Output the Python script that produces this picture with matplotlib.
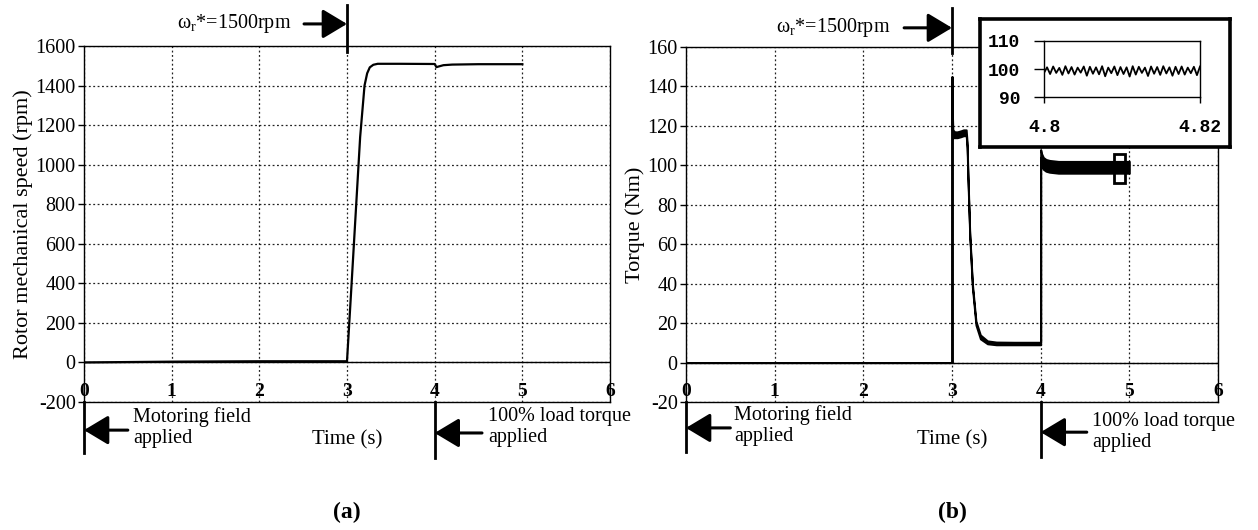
import numpy as np
import matplotlib
matplotlib.use("Agg")
import matplotlib.pyplot as plt
import matplotlib.transforms as mtransforms
from matplotlib.patches import Rectangle

plt.rcParams['font.family'] = ['Liberation Serif', 'DejaVu Serif']
plt.rcParams['mathtext.fontset'] = 'custom'
plt.rcParams['mathtext.rm'] = 'Liberation Serif'
plt.rcParams['mathtext.it'] = 'Liberation Serif:italic'

# ---- data -------------------------------------------------------------
x_ticks = [0, 1, 2, 3, 4, 5, 6]

speed_t = [0.0, 1.0, 2.0, 3.0, 3.05, 3.1, 3.15, 3.2, 3.23, 3.26, 3.3, 3.35,
           3.4, 3.6, 4.0, 4.02, 4.05, 4.1, 4.2, 4.5, 5.0]
speed_rpm = [0, 4, 6, 6, 380, 760, 1140, 1400, 1462, 1492, 1505, 1510,
             1510, 1510, 1509, 1493, 1497, 1503, 1506, 1508, 1508]
speed_yticks = [-200, 0, 200, 400, 600, 800, 1000, 1200, 1400, 1600]

torque_t = [0.0, 3.0, 3.0, 3.005, 3.01, 3.03, 3.06, 3.1, 3.13, 3.16, 3.17,
            3.18, 3.2, 3.23, 3.27, 3.32, 3.4, 3.5, 3.7, 4.0, 4.0, 4.01,
            4.03, 4.06, 4.1, 4.2, 4.4, 4.7, 5.0]
torque_hi = [0, 0, 145, 125, 118, 117, 117, 117.5, 118, 118, 112, 95, 66,
             40, 21, 14, 11, 10.4, 10.3, 10.3, 108, 106, 104, 103, 102.5,
             102, 102, 102, 102]
torque_lo = [0, 0, 145, 118, 114, 114, 114, 114.5, 115, 115, 109, 92, 64,
             38, 19, 12, 9.5, 9, 9, 9, 104, 100, 98, 97, 96.5, 96, 96, 96, 96]
torque_yticks = [-20, 0, 20, 40, 60, 80, 100, 120, 140, 160]

# zoomed window 4.80 s .. 4.82 s (alternating crests / troughs)
zoom_torque = [98.6, 100.6, 98.2, 100.9, 98.6, 100.4, 97.9, 101.0, 98.4,
               100.7, 98.0, 100.5, 98.7, 100.9, 97.6, 100.8, 98.3, 100.6,
               98.1, 101.0, 97.4, 100.5, 98.5, 100.9, 97.8, 100.7, 98.2,
               100.6, 97.3, 101.0, 98.0, 100.8, 98.6, 100.5, 97.5, 100.9,
               98.3, 100.7, 97.9, 101.0, 98.4, 100.6, 97.6, 100.8, 98.2,
               100.9, 98.0, 100.5, 98.5, 100.8, 97.8, 100.9]
zoom_window = (4.80, 4.82)
zoom_box = (4.83, 91, 0.12, 15)   # t0, T0, width, height of marked window

# ---- figure -----------------------------------------------------------
W, H = 1258, 530
fig = plt.figure(figsize=(W / 100, H / 100), dpi=100)

ax1 = fig.add_axes([84 / W, 1 - 402 / H, 526 / W, 356 / H])
ax2 = fig.add_axes([686 / W, 1 - 402 / H, 532 / W, 355 / H])

grid_style = dict(color='#222222', linewidth=0.9, linestyle=(0, (1.5, 2.0)))


def style_axes(ax, yticks):
    ax.set_xlim(0, 6)
    ax.set_ylim(yticks[0], yticks[-1])
    ax.set_xticks(x_ticks)
    ax.set_yticks(yticks)
    ax.set_yticklabels([str(v) for v in yticks])
    for s in ax.spines.values():
        s.set_linewidth(1.0)
        s.set_color('black')
    ax.grid(True, **grid_style)
    ax.axhline(0, color='black', linewidth=1.0, zorder=2)
    ax.tick_params(axis='x', direction='in', length=0, pad=-14,
                   labelsize=14)
    ax.tick_params(axis='y', direction='out', length=4, width=1, pad=2,
                   labelsize=14.5)
    for lab in ax.get_xticklabels():
        lab.set_fontweight('bold')


def annotate_events(ax, vl0, vl4, arr0_y, arr0_tail, txt0_x, txt0_y,
                    arr4_y, arr4_tail, txt4_x, txt4_y,
                    top_hi, top_lo, top_y, top_tail, top_txt_x, panel):
    tr = mtransforms.blended_transform_factory(ax.transData, ax.transAxes)
    line_kw = dict(color='black', linewidth=2.0, transform=tr, clip_on=False)
    arrow_kw = dict(arrowstyle='-|>,head_length=0.75,head_width=0.45',
                    mutation_scale=20, color='black', linewidth=2.2,
                    shrinkA=0, shrinkB=0)
    # event markers below the plot
    ax.plot([0, 0], [0, vl0], **line_kw)
    ax.plot([4, 4], [0, vl4], **line_kw)
    ax.annotate('', xy=(0.0, arr0_y), xytext=(arr0_tail, arr0_y),
                xycoords=tr, textcoords=tr, arrowprops=arrow_kw,
                annotation_clip=False)
    ax.text(txt0_x, txt0_y, 'Motoring field\napplied', transform=tr,
            ha='left', va='center', fontsize=14.5, linespacing=1.15)
    ax.annotate('', xy=(4.0, arr4_y), xytext=(arr4_tail, arr4_y),
                xycoords=tr, textcoords=tr, arrowprops=arrow_kw,
                annotation_clip=False)
    ax.text(txt4_x, txt4_y, '100% load torque\napplied', transform=tr,
            ha='left', va='center', fontsize=14.5, linespacing=1.15)
    ax.text(3.0, -0.107, 'Time (s)', transform=tr, ha='center',
            va='center', fontsize=15)
    ax.text(3.0, -0.31, panel, transform=tr, ha='center', va='center',
            fontsize=17, fontweight='bold')
    # speed reference step above the plot
    ax.plot([3, 3], [top_lo, top_hi], **line_kw)
    ax.annotate('', xy=(3.0, top_y), xytext=(top_tail, top_y),
                xycoords=tr, textcoords=tr, arrowprops=arrow_kw,
                annotation_clip=False)
    ax.text(top_txt_x, top_y, r'ω$_{\rm r}$*=1500rpm', transform=tr,
            ha='right', va='center', fontsize=14.5)


# (a) rotor speed
style_axes(ax1, speed_yticks)
ax1.plot(speed_t, speed_rpm, color='black', linewidth=1.6, zorder=3)
ax1.set_ylabel('Rotor mechanical speed (rpm)', fontsize=16, labelpad=2)
annotate_events(ax1, -0.143, -0.157, -0.079, 0.50, 0.56, -0.073,
                -0.087, 4.54, 4.61, -0.071,
                1.115, 0.983, 1.062, 2.51, 2.37, '(a)')

# (b) electromagnetic torque
style_axes(ax2, torque_yticks)
ax2.fill_between(torque_t, torque_lo, torque_hi, facecolor='black',
                 edgecolor='black', linewidth=1.4, zorder=3)
ax2.add_patch(Rectangle(zoom_box[:2], zoom_box[2], zoom_box[3],
                        facecolor='none', edgecolor='black', linewidth=2.0,
                        zorder=4))
ax2.set_ylabel('Torque (Nm)', fontsize=16, labelpad=2)
annotate_events(ax2, -0.141, -0.155, -0.073, 0.50, 0.54, -0.066,
                -0.085, 4.52, 4.58, -0.085,
                1.11, 0.983, 1.054, 2.46, 2.30, '(b)')

# inset frame with the zoomed ripple
frame = fig.add_axes([980 / W, 1 - 147 / H, 250 / W, 128 / H])
frame.set_xticks([])
frame.set_yticks([])
frame.set_facecolor('white')
for s in frame.spines.values():
    s.set_linewidth(2.6)
    s.set_color('black')
frame.set_zorder(5)

ins = fig.add_axes([1044 / W, 1 - 97 / H, 156 / W, 56 / H])
ins.set_zorder(6)
ins.set_facecolor('white')
zt = np.linspace(zoom_window[0], zoom_window[1], len(zoom_torque))
ins.plot(zt, zoom_torque, color='black', linewidth=1.3)
ins.set_xlim(*zoom_window)
ins.set_ylim(90, 110)
ins.set_xticks([4.80, 4.82])
ins.set_xticklabels(['4.8', '4.82'])
ins.set_yticks([90, 100, 110])
ins.set_yticklabels(['90', '100', '110'])
for s in ins.spines.values():
    s.set_linewidth(1.0)
ins.tick_params(axis='y', direction='out', length=7, width=1, pad=10)
ins.tick_params(axis='x', direction='out', length=4, width=1, pad=12)
for lab in ins.get_xticklabels() + ins.get_yticklabels():
    lab.set_family(['Liberation Mono', 'DejaVu Sans Mono'])
    lab.set_fontweight('bold')
    lab.set_fontsize(13)

fig.savefig('out.png', dpi=100)
